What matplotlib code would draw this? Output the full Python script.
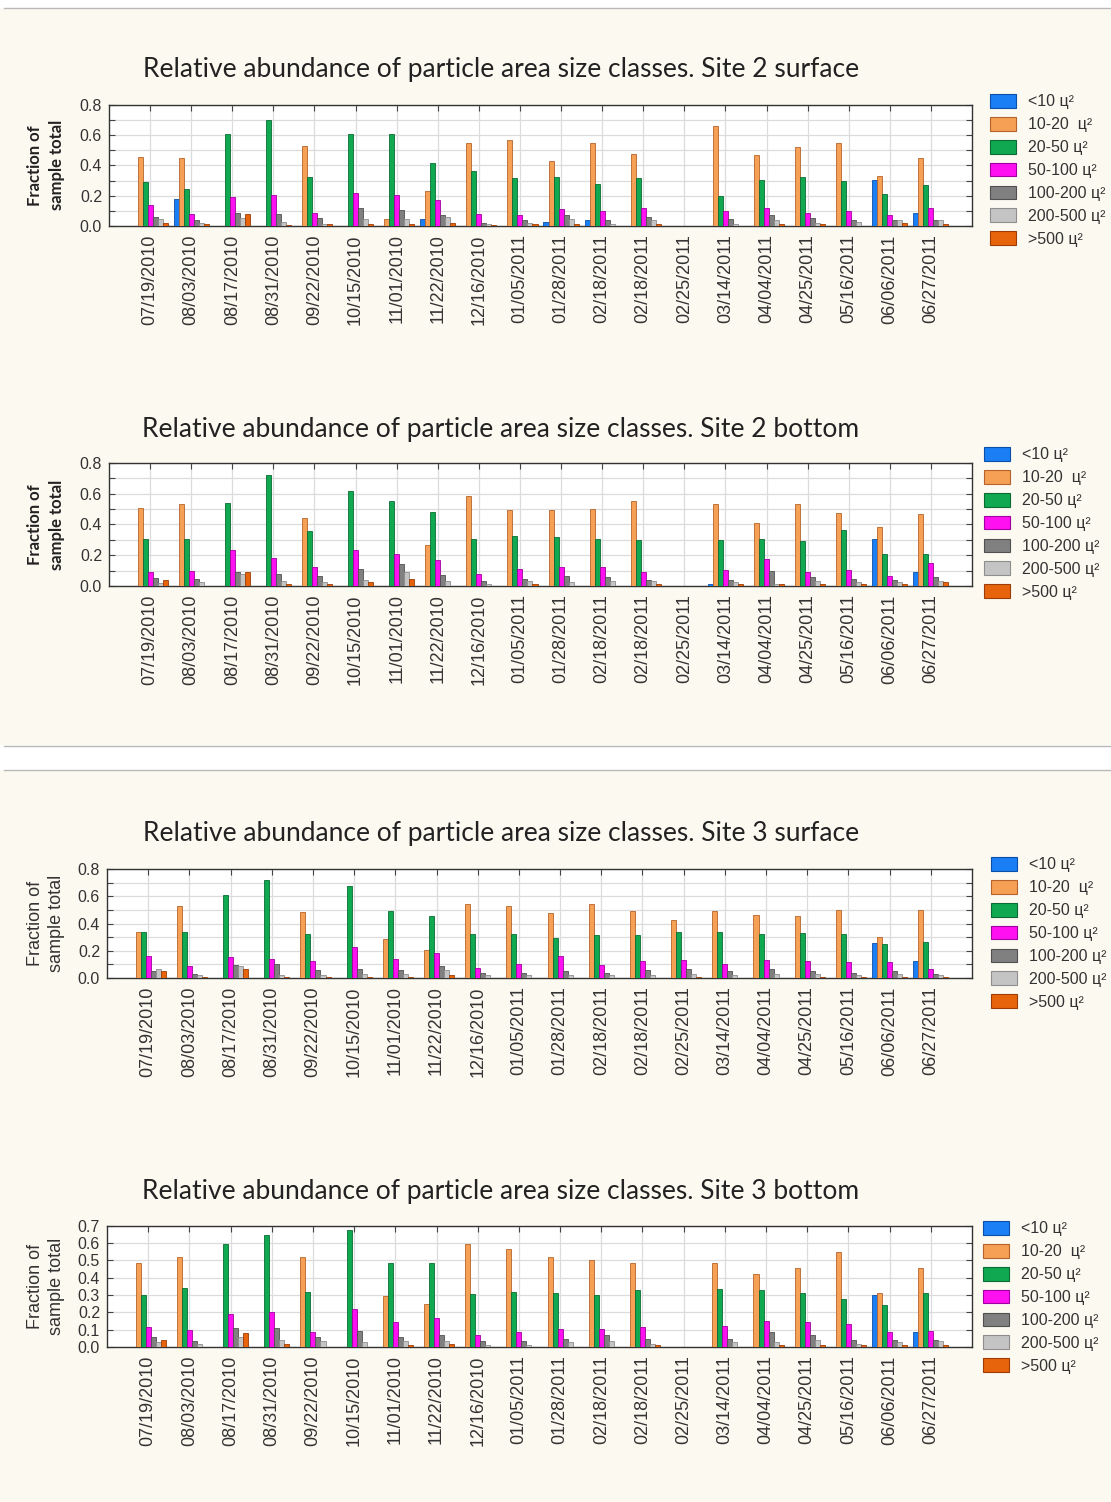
import matplotlib
matplotlib.use("Agg")
import matplotlib.pyplot as plt
import numpy as np
from matplotlib.patches import Rectangle, Patch
from matplotlib.lines import Line2D
from matplotlib.ticker import MultipleLocator

# ---------------- data ----------------
dates = ["07/19/2010", "08/03/2010", "08/17/2010", "08/31/2010", "09/22/2010",
         "10/15/2010", "11/01/2010", "11/22/2010", "12/16/2010", "01/05/2011",
         "01/28/2011", "02/18/2011", "02/18/2011", "02/25/2011", "03/14/2011",
         "04/04/2011", "04/25/2011", "05/16/2011", "06/06/2011", "06/27/2011"]

size_classes = ["<10 ц²", "10-20  ц²", "20-50 ц²", "50-100 ц²",
                "100-200 ц²", "200-500 ц²", ">500 ц²"]

titles = ["Relative abundance of particle area size classes. Site 2 surface",
          "Relative abundance of particle area size classes. Site 2 bottom",
          "Relative abundance of particle area size classes. Site 3 surface",
          "Relative abundance of particle area size classes. Site 3 bottom"]

# Site 2 surface
s2s_lt10 = [0, 0.18, 0, 0, 0, 0, 0, 0.046, 0, 0, 0.028, 0.04, 0, 0, 0, 0, 0, 0, 0.305, 0.088]
s2s_10_20 = [0.456, 0.447, 0, 0, 0.526, 0, 0.046, 0.23, 0.55, 0.568, 0.43, 0.55, 0.474, 0, 0.66, 0.467, 0.52, 0.55, 0.331, 0.45]
s2s_20_50 = [0.29, 0.245, 0.61, 0.70, 0.322, 0.61, 0.61, 0.417, 0.364, 0.314, 0.322, 0.28, 0.314, 0, 0.197, 0.305, 0.322, 0.296, 0.213, 0.272]
s2s_50_100 = [0.138, 0.077, 0.19, 0.204, 0.083, 0.22, 0.204, 0.171, 0.079, 0.072, 0.114, 0.099, 0.12, 0, 0.099, 0.12, 0.088, 0.099, 0.07, 0.12]
s2s_100_200 = [0.061, 0.04, 0.088, 0.077, 0.053, 0.12, 0.105, 0.07, 0.022, 0.039, 0.072, 0.04, 0.061, 0, 0.046, 0.07, 0.053, 0.037, 0.037, 0.037]
s2s_200_500 = [0.046, 0.02, 0.05, 0.028, 0.015, 0.044, 0.046, 0.061, 0.011, 0.022, 0.048, 0.011, 0.04, 0, 0.011, 0.037, 0.02, 0.028, 0.037, 0.037]
s2s_gt500 = [0.022, 0.013, 0.077, 0.004, 0.013, 0.01, 0.01, 0.02, 0.004, 0.013, 0.011, 0, 0.013, 0, 0, 0.011, 0.011, 0, 0.02, 0.011]

# Site 2 bottom
s2b_lt10 = [0, 0, 0, 0, 0, 0, 0, 0, 0, 0, 0, 0, 0, 0, 0.015, 0, 0, 0, 0.307, 0.089]
s2b_10_20 = [0.51, 0.534, 0, 0, 0.442, 0, 0, 0.266, 0.584, 0.493, 0.493, 0.501, 0.551, 0, 0.534, 0.408, 0.534, 0.475, 0.384, 0.466]
s2b_20_50 = [0.307, 0.307, 0.543, 0.72, 0.357, 0.617, 0.551, 0.484, 0.307, 0.325, 0.316, 0.307, 0.299, 0, 0.299, 0.307, 0.29, 0.366, 0.207, 0.207]
s2b_50_100 = [0.089, 0.098, 0.231, 0.181, 0.124, 0.231, 0.207, 0.166, 0.081, 0.113, 0.124, 0.124, 0.089, 0, 0.107, 0.174, 0.089, 0.107, 0.065, 0.148]
s2b_100_200 = [0.054, 0.048, 0.089, 0.081, 0.065, 0.113, 0.14, 0.074, 0.033, 0.048, 0.065, 0.057, 0.039, 0, 0.039, 0.098, 0.057, 0.048, 0.039, 0.057]
s2b_200_500 = [0.02, 0.024, 0.078, 0.033, 0.024, 0.039, 0.089, 0.033, 0.015, 0.03, 0.024, 0.03, 0.03, 0, 0.024, 0.015, 0.03, 0.024, 0.024, 0.03]
s2b_gt500 = [0.039, 0, 0.089, 0.015, 0.015, 0.024, 0.048, 0, 0, 0.015, 0, 0, 0.015, 0, 0.015, 0.015, 0.015, 0.015, 0.015, 0.024]

# Site 3 surface
s3s_lt10 = [0, 0, 0, 0, 0, 0, 0, 0, 0, 0, 0, 0, 0, 0, 0, 0, 0, 0, 0.255, 0.125]
s3s_10_20 = [0.341, 0.53, 0, 0, 0.483, 0, 0.285, 0.209, 0.54, 0.53, 0.474, 0.54, 0.493, 0.427, 0.493, 0.464, 0.456, 0.5, 0.304, 0.5]
s3s_20_50 = [0.341, 0.341, 0.606, 0.719, 0.321, 0.672, 0.493, 0.456, 0.321, 0.321, 0.294, 0.314, 0.314, 0.341, 0.341, 0.321, 0.331, 0.321, 0.248, 0.265]
s3s_50_100 = [0.162, 0.086, 0.152, 0.142, 0.125, 0.228, 0.142, 0.182, 0.076, 0.106, 0.162, 0.096, 0.125, 0.133, 0.106, 0.133, 0.125, 0.115, 0.115, 0.066]
s3s_100_200 = [0.049, 0.029, 0.096, 0.106, 0.059, 0.066, 0.059, 0.086, 0.039, 0.039, 0.049, 0.039, 0.059, 0.066, 0.049, 0.066, 0.049, 0.039, 0.049, 0.029]
s3s_200_500 = [0.066, 0.02, 0.086, 0.02, 0.02, 0.029, 0.029, 0.059, 0.02, 0.02, 0.02, 0.02, 0.02, 0.029, 0.02, 0.029, 0.029, 0.02, 0.029, 0.02]
s3s_gt500 = [0.049, 0.01, 0.066, 0.01, 0.01, 0.01, 0.01, 0.02, 0, 0, 0, 0, 0, 0.01, 0, 0, 0.01, 0.01, 0.01, 0.01]

# Site 3 bottom
s3b_lt10 = [0, 0, 0, 0, 0, 0, 0, 0, 0, 0, 0, 0, 0, 0, 0, 0, 0, 0, 0.299, 0.084]
s3b_10_20 = [0.483, 0.52, 0, 0, 0.52, 0, 0.292, 0.247, 0.595, 0.564, 0.52, 0.504, 0.483, 0, 0.483, 0.424, 0.455, 0.549, 0.313, 0.455]
s3b_20_50 = [0.299, 0.343, 0.595, 0.644, 0.32, 0.675, 0.483, 0.483, 0.307, 0.315, 0.313, 0.299, 0.328, 0, 0.336, 0.328, 0.313, 0.276, 0.24, 0.313]
s3b_50_100 = [0.115, 0.1, 0.188, 0.203, 0.086, 0.219, 0.144, 0.167, 0.071, 0.086, 0.105, 0.105, 0.115, 0, 0.123, 0.152, 0.144, 0.13, 0.084, 0.092]
s3b_100_200 = [0.056, 0.035, 0.107, 0.107, 0.056, 0.092, 0.056, 0.071, 0.035, 0.035, 0.048, 0.071, 0.048, 0, 0.048, 0.084, 0.071, 0.04, 0.04, 0.04]
s3b_200_500 = [0.027, 0.019, 0.056, 0.04, 0.035, 0.027, 0.035, 0.035, 0.012, 0.012, 0.027, 0.035, 0.019, 0, 0.027, 0.027, 0.04, 0.019, 0.027, 0.035]
s3b_gt500 = [0.04, 0, 0.079, 0.019, 0, 0, 0.012, 0.019, 0, 0, 0, 0, 0.012, 0, 0, 0.012, 0.012, 0.012, 0.012, 0.012]

panel_series = [
    [s2s_lt10, s2s_10_20, s2s_20_50, s2s_50_100, s2s_100_200, s2s_200_500, s2s_gt500],
    [s2b_lt10, s2b_10_20, s2b_20_50, s2b_50_100, s2b_100_200, s2b_200_500, s2b_gt500],
    [s3s_lt10, s3s_10_20, s3s_20_50, s3s_50_100, s3s_100_200, s3s_200_500, s3s_gt500],
    [s3b_lt10, s3b_10_20, s3b_20_50, s3b_50_100, s3b_100_200, s3b_200_500, s3b_gt500],
]

# ---------------- style ----------------
face_colors = ["#1a7ef5", "#f5a055", "#10a850", "#ff10f0", "#808080", "#c4c4c4", "#e8640c"]
edge_colors = ["#0b4fa8", "#b5632a", "#0a6b33", "#a000a0", "#505050", "#8e8e8e", "#9c3d05"]
cream = "#fcf9f1"

W, H = 1111, 1502
fig = plt.figure(figsize=(W / 100, H / 100), dpi=100)
fig.patch.set_facecolor("white")

# page backgrounds
fig.add_artist(Rectangle((0, 1 - 745 / H), 1, (745 - 8) / H, transform=fig.transFigure,
                         facecolor=cream, edgecolor="none", zorder=-10))
fig.add_artist(Rectangle((0, 0), 1, 1 - 770 / H, transform=fig.transFigure,
                         facecolor=cream, edgecolor="none", zorder=-10))
for yy in (7.5, 745.5, 769.5):
    fig.add_artist(Line2D([0.004, 1], [1 - yy / H] * 2, transform=fig.transFigure,
                          color="#b8b8b8", lw=1.0, zorder=-5))

# layout in pixels: (x_left, x_right, y_top, y_bottom)
boxes = [(109, 972, 104.7, 226), (109, 972, 463, 586),
         (107, 972, 869, 978), (107, 972, 1225.7, 1347)]
title_y = [70, 429, 833, 1191]
ymax = [0.8, 0.8, 0.8, 0.7]
ymajor = [0.2, 0.2, 0.2, 0.1]
bold_label = [True, True, False, False]
legend_pos = [(990, 94), (984, 447), (991, 857), (983, 1221)]

x = np.arange(len(dates))
nser = len(size_classes)
bw = 0.122

for p in range(4):
    x0, x1, yt, yb = boxes[p]
    ax = fig.add_axes([x0 / W, 1 - yb / H, (x1 - x0) / W, (yb - yt) / H])
    ax.set_facecolor("white")
    for i, vals in enumerate(panel_series[p]):
        ax.bar(x + (i - 3) * bw, vals, width=bw, color=face_colors[i],
               edgecolor=edge_colors[i], linewidth=0.6, zorder=3)
    ax.set_xlim(-1.0, len(dates))
    ax.set_ylim(0, ymax[p])
    ax.set_xticks(x)
    ax.set_xticklabels(dates, rotation=90, fontsize=13, family="Liberation Sans",
                       color="#333333")
    ax.yaxis.set_major_locator(MultipleLocator(ymajor[p]))
    ax.yaxis.set_minor_locator(MultipleLocator(0.1))
    ax.yaxis.set_major_formatter(matplotlib.ticker.FormatStrFormatter("%.1f"))
    for lab in ax.get_yticklabels():
        lab.set_family("Liberation Sans")
        lab.set_fontsize(11.5)
        lab.set_color("#333333")
    ax.tick_params(axis="x", which="both", bottom=False, top=True, direction="in",
                   length=4, width=0.8, color="#444444", pad=6)
    ax.tick_params(axis="y", which="both", left=True, right=True, direction="in",
                   length=4, width=0.8, color="#444444", pad=5)
    ax.grid(True, which="both", color="#dcdcdc", linewidth=0.9, zorder=0)
    ax.set_axisbelow(True)
    for s in ax.spines.values():
        s.set_color("#333333")
        s.set_linewidth(1.0)

    if bold_label[p]:
        ax.set_ylabel("Fraction of\nsample total", fontsize=12, family="Lato",
                      fontweight="bold", color="#222222", linespacing=1.45)
    else:
        ax.set_ylabel("Fraction of\nsample total", fontsize=13, family="Liberation Sans",
                      color="#333333", linespacing=1.3)
    ax.yaxis.set_label_coords((65 - x0) / (x1 - x0), 0.5)

    fig.text(501 / W, 1 - title_y[p] / H, titles[p], ha="center", va="center",
             fontsize=19, family="Lato", color="#222222")

    handles = [Patch(facecolor=face_colors[i], edgecolor=edge_colors[i], linewidth=0.8)
               for i in range(nser)]
    lx, ly = legend_pos[p]
    leg = ax.legend(handles, size_classes, loc="upper left",
                    bbox_to_anchor=(lx / W, 1 - ly / H), bbox_transform=fig.transFigure,
                    frameon=False, borderpad=0, borderaxespad=0, handlelength=1.6,
                    handleheight=0.95, handletextpad=0.8, labelspacing=0.47,
                    prop={"family": "Liberation Sans", "size": 11.5})
    for t in leg.get_texts():
        t.set_color("#333333")

fig.savefig("out.png", dpi=100, facecolor=fig.get_facecolor())
